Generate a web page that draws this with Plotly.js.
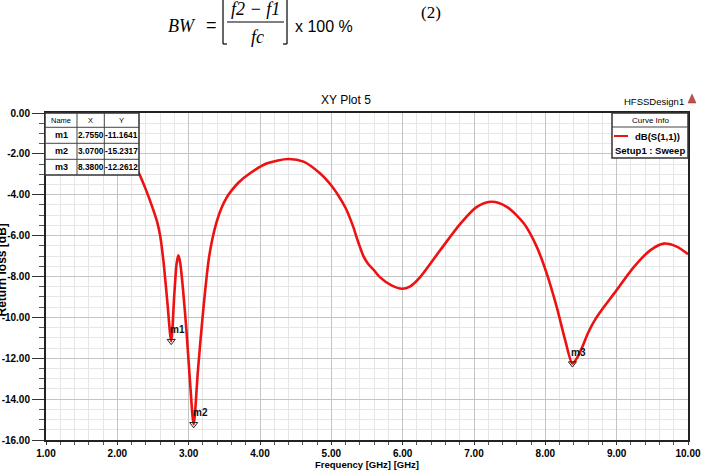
<!DOCTYPE html>
<html>
<head>
<meta charset="utf-8">
<script src="https://cdn.plot.ly/plotly-3.0.1.min.js"></script>
<style>
html,body{margin:0;padding:0;background:#fff;}
#chart{width:702px;height:470px;}
</style>
</head>
<body>
<div id="chart"></div>
<script>
// ---- data ----
const freq = [1.0,1.3,1.6,1.9,2.1,2.2,2.3,2.4,2.505,2.56,2.6,2.645,2.7,2.755,2.8,2.83,2.855,2.88,2.92,2.97,3.02,3.07,3.13,3.2,3.28,3.33,3.39,3.46,3.53,3.6,3.7,3.86,4.1,4.4,4.61,4.84,5.0,5.1,5.2,5.3,5.38,5.45,5.52,5.6,5.68,5.85,5.99,6.1,6.245,6.525,6.81,7.04,7.25,7.46,7.7,7.88,8.02,8.16,8.28,8.38,8.45,8.53,8.6,8.7,8.83,8.96,9.24,9.47,9.66,9.85,10.0];
const s11  = [-0.55,-0.7,-0.95,-1.35,-1.85,-2.3,-2.93,-3.75,-4.75,-5.35,-6.0,-7.2,-9.2,-11.16,-8.8,-7.4,-6.96,-7.3,-8.6,-10.7,-13.2,-15.23,-12.6,-9.8,-7.2,-6.2,-5.35,-4.65,-4.15,-3.8,-3.4,-2.95,-2.46,-2.25,-2.38,-2.95,-3.55,-4.05,-4.65,-5.5,-6.35,-7.0,-7.4,-7.7,-8.03,-8.45,-8.6,-8.5,-8.03,-6.72,-5.41,-4.59,-4.34,-4.59,-5.41,-6.55,-7.86,-9.5,-11.14,-12.26,-11.95,-11.35,-10.75,-10.1,-9.45,-8.85,-7.54,-6.72,-6.39,-6.55,-6.91];

const markerNames = ["m1","m2","m3"];
const markerX = [2.755, 3.07, 8.38];
const markerY = [-11.1641, -15.2317, -12.2612];
const markerXText = ["2.7550","3.0700","8.3800"];
const markerYText = ["-11.1641","-15.2317","-12.2612"];

const xTickVals = [1,2,3,4,5,6,7,8,9,10];
const xTickText = ["1.00","2.00","3.00","4.00","5.00","6.00","7.00","8.00","9.00","10.00"];
const yTickVals = [0,-2,-4,-6,-8,-10,-12,-14,-16];
const yTickText = ["0.00","-2.00","-4.00","-6.00","-8.00","-10.00","-12.00","-14.00","-16.00"];

const curveName = "dB(S(1,1))";
const curveSetup = "Setup1 : Sweep";

// ---- layout helpers (pixel -> paper) ----
const L = 46, R = 688, T = 113, B = 440;
const W = R - L, H = B - T;
const px = v => (v - L) / W;
const py = v => (B - v) / H;
const SANS = "Liberation Sans, Arial, sans-serif";

const shapes = [];
const annotations = [];
function line(x0,y0,x1,y1,color,width){
  shapes.push({type:'line',xref:'paper',yref:'paper',x0:px(x0),y0:py(y0),x1:px(x1),y1:py(y1),line:{color:color,width:width}});
}
function rect(x0,y0,x1,y1,fill,color,width){
  shapes.push({type:'rect',xref:'paper',yref:'paper',x0:px(x0),y0:py(y0),x1:px(x1),y1:py(y1),fillcolor:fill,line:{color:color,width:width}});
}
function text(t,x,y,size,opts){
  opts = opts||{};
  annotations.push({xref:'paper',yref:'paper',x:px(x),y:py(y),text:t,showarrow:false,
    xanchor:opts.xanchor||'center',yanchor:opts.yanchor||'middle',textangle:opts.angle||0,
    font:{family:opts.family||SANS,size:size,color:opts.color||'#000',weight:opts.weight||'normal',style:opts.style||'normal'}});
}

// ---- equation above the chart ----
const SERIF = "Liberation Serif, DejaVu Serif, serif";
text("BW", 182, 26, 18, {family:SERIF, style:'italic'});
text("=", 212, 25, 18, {family:SANS});
text("f2 − f1", 255, 9, 18, {family:SERIF, style:'italic'});
text("fc", 257, 37, 18, {family:SERIF, style:'italic'});
text("x 100 %", 324, 26, 16, {family:SANS});
text("(2)", 431, 12, 17, {family:SERIF});
line(227, 22, 284, 22, '#000', 1.2);
// brackets
line(223, -2, 223, 44, '#000', 1.2); line(223, 44, 227, 44, '#000', 1.2); line(223, -2, 227, -2, '#000', 1.2);
line(287, -2, 287, 44, '#000', 1.2); line(283, 44, 287, 44, '#000', 1.2); line(283, -2, 287, -2, '#000', 1.2);

// ---- titles ----
text("XY Plot 5", 346, 100, 12);
text("HFSSDesign1", 654, 101, 9.5);
shapes.push({type:'path',xref:'paper',yref:'paper',
  path:`M ${px(692)} ${py(94)} L ${px(688)} ${py(103)} L ${px(696)} ${py(103)} Z`,
  fillcolor:'#c0504d',line:{color:'#a03030',width:0.5}});
text("Frequency [GHz] [GHz]", 367, 464, 9.5, {weight:'bold'});
text("Return loss [dB]", 1.5, 270, 12, {weight:'bold', angle:-90});

// ---- marker table ----
rect(45, 113, 139, 175, '#fff', '#333', 1.5);
line(45, 127.3, 139, 127.3, '#444', 1);
line(45, 143.3, 139, 143.3, '#444', 1);
line(45, 159.3, 139, 159.3, '#444', 1);
line(77, 113, 77, 175, '#444', 1);
line(104.3, 113, 104.3, 175, '#444', 1);
text("Name", 61, 120.5, 7.5);
text("X", 90.6, 120.5, 7.5);
text("Y", 121.6, 120.5, 7.5);
const rowY = [135.3, 151.3, 167.2];
for (let i = 0; i < markerNames.length; i++) {
  text(markerNames[i], 61, rowY[i], 9, {weight:'bold'});
  text(markerXText[i], 90.8, rowY[i], 8.3, {weight:'bold'});
  text(markerYText[i], 121.8, rowY[i], 8.3, {weight:'bold'});
}

// ---- curve info box ----
rect(612, 113, 688, 158, '#fff', '#333', 1.5);
line(612, 127, 688, 127, '#444', 1);
text("Curve Info", 650, 120, 8);
line(614, 136, 628, 136, '#ee1111', 2);
text(curveName, 657, 136, 9.5, {weight:'bold'});
text(curveSetup, 650, 150, 9.5, {weight:'bold'});

// ---- marker labels ----
for (let i = 0; i < markerNames.length; i++) {
  annotations.push({x:markerX[i], y:markerY[i], xref:'x', yref:'y', text:markerNames[i], showarrow:false,
    xanchor:'left', yanchor:'bottom', xshift:-3, yshift:4,
    font:{family:SANS, size:10, color:'#111', weight:'bold'}});
}

const traces = [
  {x:freq, y:s11, type:'scatter', mode:'lines', name:curveName,
   line:{color:'#ee1111', width:2.6, shape:'spline', smoothing:0.8}, hoverinfo:'x+y'},
  {x:markerX, y:markerY, type:'scatter', mode:'markers', name:'markers',
   marker:{symbol:'triangle-down-open', size:7, color:'#222', line:{width:1, color:'#222'}}}
];

const axisFont = {family:SANS, size:10, color:'#000', weight:'bold'};
const layout = {
  width:702, height:470,
  margin:{l:L, r:702-R, t:T, b:470-B, pad:0},
  paper_bgcolor:'#fff', plot_bgcolor:'#fff',
  showlegend:false,
  xaxis:{range:[1,10], tickvals:xTickVals, ticktext:xTickText, tickfont:axisFont,
    ticklabeloverflow:'allow',
    showgrid:true, gridcolor:'#c4c4c4', gridwidth:1,
    ticks:'outside', ticklen:3, tickcolor:'#333',
    minor:{dtick:0.2, tick0:1, showgrid:true, gridcolor:'#e6e6e6', ticks:'outside', ticklen:3, tickcolor:'#555'},
    showline:true, linecolor:'#222', linewidth:2, mirror:true, zeroline:false, fixedrange:true},
  yaxis:{range:[-16,0], tickvals:yTickVals, ticktext:yTickText, tickfont:axisFont,
    ticklabeloverflow:'allow',
    showgrid:true, gridcolor:'#c4c4c4', gridwidth:1,
    ticks:'outside', ticklen:12, tickcolor:'#333',
    minor:{dtick:0.5, tick0:0, showgrid:true, gridcolor:'#e6e6e6', ticks:'outside', ticklen:5, tickcolor:'#555'},
    showline:true, linecolor:'#222', linewidth:2, mirror:true, zeroline:false, fixedrange:true},
  shapes:shapes,
  annotations:annotations
};

Plotly.newPlot('chart', traces, layout, {displayModeBar:false, staticPlot:true});
</script>
</body>
</html>
